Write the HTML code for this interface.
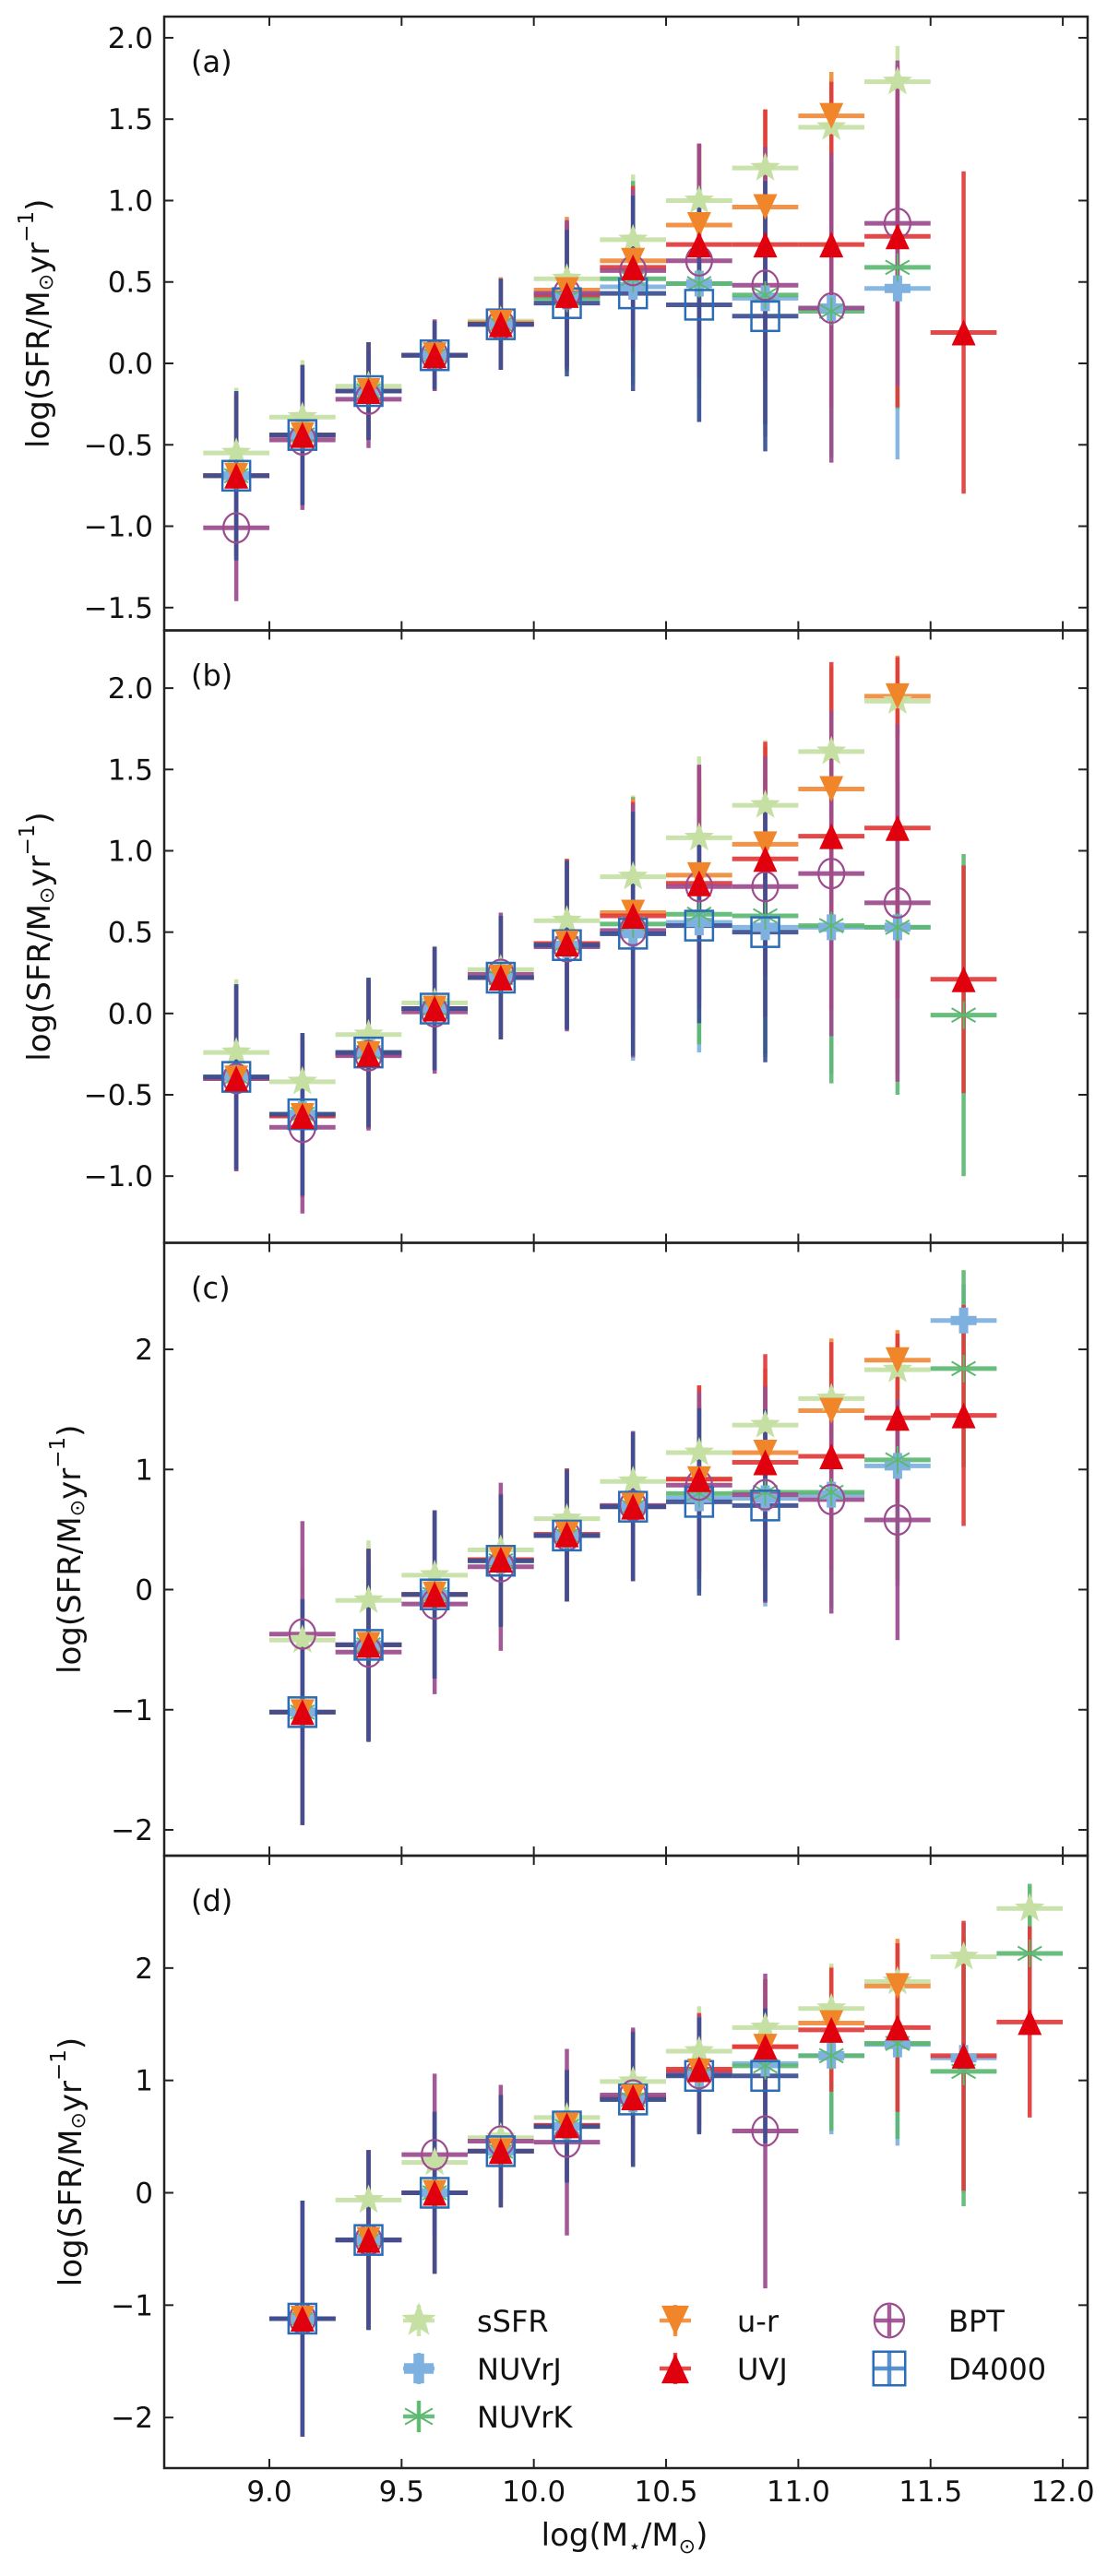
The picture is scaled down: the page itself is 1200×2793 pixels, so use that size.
<!DOCTYPE html>
<html><head><meta charset="utf-8">
<style>
html,body{margin:0;padding:0;background:#fff;}
svg{display:block;font-family:"DejaVu Sans","Liberation Sans",sans-serif;}
</style></head>
<body>
<svg id="fig" width="1200" height="2793" viewBox="0 0 1200 2793" xmlns="http://www.w3.org/2000/svg"></svg>
<script>
// ---------- data ----------
const xBins = [8.875,9.125,9.375,9.625,9.875,10.125,10.375,10.625,10.875,11.125,11.375,11.625,11.875];
const xTicks = [9.0,9.5,10.0,10.5,11.0,11.5,12.0];
const xTickLabels = ["9.0","9.5","10.0","10.5","11.0","11.5","12.0"];
const N = null;
// panel (a)
const a_ssfr  = [-0.55,-0.33,-0.14,0.05,0.26,0.52,0.76,1.00,1.20,1.45,1.73,N,N];
const a_ssfr_e= [0.4,0.35,0.25,0.2,0.25,0.35,0.4,0.35,0.35,0.3,0.22,N,N];
const a_nuvrj = [-0.69,-0.44,-0.17,0.05,0.24,0.41,0.47,0.49,0.40,0.34,0.46,N,N];
const a_nuvrj_e=[0.52,0.43,0.3,0.21,0.28,0.45,0.6,0.85,0.85,0.9,1.05,N,N];
const a_nuvrk = [-0.69,-0.44,-0.17,0.05,0.24,0.40,0.52,0.49,0.42,0.32,0.59,N,N];
const a_nuvrk_e=[0.52,0.43,0.3,0.21,0.28,0.45,0.6,0.7,0.8,0.9,0.87,N,N];
const a_ur    = [-0.69,-0.44,-0.17,0.05,0.25,0.45,0.63,0.85,0.96,1.52,N,N,N];
const a_ur_e  = [0.5,0.43,0.3,0.2,0.28,0.45,0.45,0.5,0.6,0.27,N,N,N];
const a_uvj   = [-0.69,-0.44,-0.17,0.05,0.24,0.42,0.59,0.73,0.73,0.73,0.78,0.19,N];
const a_uvj_e = [0.5,0.43,0.3,0.22,0.28,0.45,0.5,0.62,0.83,1.0,1.05,0.99,N];
const a_bpt   = [-1.01,-0.47,-0.22,0.05,0.24,0.43,0.57,0.63,0.48,0.34,0.86,N,N];
const a_bpt_e = [0.45,0.43,0.3,0.22,0.28,0.45,0.5,0.72,0.85,0.95,1.0,N,N];
const a_d4    = [-0.69,-0.44,-0.17,0.05,0.24,0.37,0.43,0.36,0.29,N,N,N,N];
const a_d4_e  = [0.52,0.43,0.3,0.21,0.28,0.45,0.6,0.72,0.83,N,N,N,N];
// panel (b)
const b_ssfr  = [-0.24,-0.42,-0.13,0.065,0.27,0.57,0.84,1.08,1.28,1.61,1.92,N,N];
const b_ssfr_e= [0.45,0.3,0.35,0.35,0.35,0.37,0.5,0.5,0.4,0.4,0.2,N,N];
const b_nuvrj = [-0.39,-0.62,-0.24,0.03,0.22,0.42,0.49,0.56,0.53,0.53,0.53,N,N];
const b_nuvrj_e=[0.57,0.5,0.46,0.38,0.38,0.52,0.78,0.8,0.8,0.9,0.9,N,N];
const b_nuvrk = [-0.39,-0.62,-0.24,0.03,0.22,0.43,0.55,0.61,0.6,0.54,0.53,-0.01,N];
const b_nuvrk_e=[0.57,0.5,0.46,0.38,0.38,0.52,0.78,0.8,0.85,0.97,1.03,0.99,N];
const b_ur    = [-0.4,-0.63,-0.25,0.03,0.22,0.43,0.62,0.85,1.04,1.38,1.95,N,N];
const b_ur_e  = [0.57,0.5,0.46,0.38,0.38,0.52,0.7,0.6,0.6,0.75,0.25,N,N];
const b_uvj   = [-0.4,-0.63,-0.25,0.03,0.22,0.43,0.6,0.8,0.95,1.09,1.14,0.21,N];
const b_uvj_e = [0.57,0.5,0.46,0.38,0.38,0.52,0.7,0.72,0.72,1.07,1.05,0.7,N];
const b_bpt   = [-0.4,-0.70,-0.26,0.01,0.24,0.41,0.51,0.78,0.78,0.86,0.68,N,N];
const b_bpt_e = [0.57,0.53,0.46,0.38,0.38,0.52,0.78,0.75,0.8,1.0,1.1,N,N];
const b_d4    = [-0.39,-0.62,-0.24,0.03,0.22,0.42,0.49,0.54,0.5,N,N,N,N];
const b_d4_e  = [0.57,0.5,0.46,0.38,0.38,0.52,0.75,0.6,0.8,N,N,N,N];
// panel (c)
const c_ssfr  = [N,-0.42,-0.09,0.12,0.33,0.59,0.9,1.14,1.37,1.59,1.83,N,N];
const c_ssfr_e= [N,0.6,0.5,0.45,0.4,0.4,0.4,0.4,0.4,0.35,0.3,N,N];
const c_nuvrj = [N,-1.02,-0.46,-0.04,0.24,0.45,0.69,0.76,0.76,0.79,1.03,2.24,N];
const c_nuvrj_e=[N,0.94,0.8,0.7,0.55,0.55,0.62,0.78,0.9,0.95,1.0,0.3,N];
const c_nuvrk = [N,-1.02,-0.46,-0.04,0.24,0.45,0.69,0.8,0.81,0.81,1.08,1.84,N];
const c_nuvrk_e=[N,0.94,0.8,0.7,0.55,0.55,0.62,0.78,0.9,0.95,1.0,0.82,N];
const c_ur    = [N,-1.02,-0.46,-0.04,0.25,0.46,0.7,0.92,1.14,1.49,1.91,N,N];
const c_ur_e  = [N,0.94,0.8,0.7,0.55,0.55,0.62,0.78,0.7,0.6,0.25,N,N];
const c_uvj   = [N,-1.02,-0.46,-0.04,0.25,0.46,0.69,0.92,1.06,1.11,1.43,1.45,N];
const c_uvj_e = [N,0.94,0.8,0.7,0.55,0.55,0.62,0.78,0.9,0.95,0.7,0.92,N];
const c_bpt   = [N,-0.37,-0.52,-0.12,0.19,0.45,0.7,0.87,0.79,0.75,0.58,N,N];
const c_bpt_e = [N,0.94,0.75,0.75,0.7,0.55,0.62,0.78,0.9,0.95,1.0,N,N];
const c_d4    = [N,-1.02,-0.46,-0.04,0.24,0.45,0.69,0.73,0.7,N,N,N,N];
const c_d4_e  = [N,0.94,0.8,0.7,0.55,0.55,0.62,0.78,0.8,N,N,N,N];
// panel (d)
const d_ssfr  = [N,N,-0.065,0.27,0.49,0.67,0.99,1.26,1.47,1.64,1.88,2.1,2.53];
const d_ssfr_e= [N,N,0.4,0.4,0.4,0.4,0.4,0.4,0.4,0.4,0.35,0.3,0.2];
const d_nuvrj = [N,-1.12,-0.42,0.0,0.37,0.59,0.83,1.05,1.15,1.22,1.32,1.2,N];
const d_nuvrj_e=[N,1.05,0.8,0.72,0.5,0.5,0.6,0.52,0.6,0.7,0.9,1.2,N];
const d_nuvrk = [N,-1.12,-0.42,0.0,0.37,0.59,0.83,1.05,1.13,1.22,1.33,1.08,2.13];
const d_nuvrk_e=[N,1.05,0.8,0.72,0.5,0.5,0.6,0.52,0.6,0.67,0.85,1.2,0.62];
const d_ur    = [N,-1.12,-0.42,0.0,0.37,0.6,0.85,1.08,1.3,1.51,1.84,N,N];
const d_ur_e  = [N,1.05,0.8,0.72,0.5,0.5,0.6,0.52,0.6,0.5,0.42,N,N];
const d_uvj   = [N,-1.12,-0.42,0.0,0.37,0.6,0.85,1.1,1.3,1.45,1.47,1.22,1.52];
const d_uvj_e = [N,1.05,0.8,0.72,0.5,0.5,0.6,0.5,0.6,0.55,0.75,1.2,0.85];
const d_bpt   = [N,-1.12,-0.42,0.34,0.46,0.45,0.87,1.06,0.55,N,N,N,N];
const d_bpt_e = [N,1.05,0.8,0.72,0.5,0.83,0.6,0.52,1.4,N,N,N,N];
const d_d4    = [N,-1.12,-0.42,0.0,0.37,0.59,0.83,1.04,1.04,N,N,N,N];
const d_d4_e  = [N,1.05,0.8,0.72,0.5,0.5,0.6,0.52,0.6,N,N,N,N];
// ticks
const a_yticks = [-1.5,-1.0,-0.5,0.0,0.5,1.0,1.5,2.0];
const a_ylabels = ["−1.5","−1.0","−0.5","0.0","0.5","1.0","1.5","2.0"];
const b_yticks = [-1.0,-0.5,0.0,0.5,1.0,1.5,2.0];
const b_ylabels = ["−1.0","−0.5","0.0","0.5","1.0","1.5","2.0"];
const c_yticks = [-2,-1,0,1,2];
const c_ylabels = ["−2","−1","0","1","2"];
const d_yticks = [-2,-1,0,1,2];
const d_ylabels = ["−2","−1","0","1","2"];

// ---------- rendering ----------
const NS="http://www.w3.org/2000/svg";
const svg=document.getElementById('fig');
function mk(tag,attrs,parent){const e=document.createElementNS(NS,tag);for(const k in attrs)e.setAttribute(k,attrs[k]);(parent||svg).appendChild(e);return e;}
const X0=177.3, PXU=286.7, XMIN=8.6, XMAX=12.094;
function sx(v){return X0+(v-XMIN)*PXU;}
const panels=[
 {id:'a',top:18,bot:683.5,ymin:-1.64,ymax:2.13,yt:a_yticks,yl:a_ylabels,labX:42,
  s:{ssfr:[a_ssfr,a_ssfr_e],nuvrj:[a_nuvrj,a_nuvrj_e],nuvrk:[a_nuvrk,a_nuvrk_e],bpt:[a_bpt,a_bpt_e],d4:[a_d4,a_d4_e],ur:[a_ur,a_ur_e],uvj:[a_uvj,a_uvj_e]}},
 {id:'b',top:683.5,bot:1347.5,ymin:-1.41,ymax:2.355,yt:b_yticks,yl:b_ylabels,labX:43,
  s:{ssfr:[b_ssfr,b_ssfr_e],nuvrj:[b_nuvrj,b_nuvrj_e],nuvrk:[b_nuvrk,b_nuvrk_e],bpt:[b_bpt,b_bpt_e],d4:[b_d4,b_d4_e],ur:[b_ur,b_ur_e],uvj:[b_uvj,b_uvj_e]}},
 {id:'c',top:1347.5,bot:2012,ymin:-2.215,ymax:2.887,yt:c_yticks,yl:c_ylabels,labX:76,
  s:{ssfr:[c_ssfr,c_ssfr_e],nuvrj:[c_nuvrj,c_nuvrj_e],nuvrk:[c_nuvrk,c_nuvrk_e],bpt:[c_bpt,c_bpt_e],d4:[c_d4,c_d4_e],ur:[c_ur,c_ur_e],uvj:[c_uvj,c_uvj_e]}},
 {id:'d',top:2012,bot:2676,ymin:-2.45,ymax:3.0,yt:d_yticks,yl:d_ylabels,labX:77,
  s:{ssfr:[d_ssfr,d_ssfr_e],nuvrj:[d_nuvrj,d_nuvrj_e],nuvrk:[d_nuvrk,d_nuvrk_e],bpt:[d_bpt,d_bpt_e],d4:[d_d4,d_d4_e],ur:[d_ur,d_ur_e],uvj:[d_uvj,d_uvj_e]}}
];
const style={
 ssfr:{c:'#c6e0a4',e:'#c6e0a4',name:'sSFR'},
 nuvrj:{c:'#7eb1e0',e:'#7eb1e0',name:'NUVrJ'},
 nuvrk:{c:'#5db872',e:'#5db872',name:'NUVrK'},
 bpt:{c:'#9c4c8e',e:'#9c4c8e',name:'BPT'},
 d4:{c:'#2a6cb6',e:'#3b4f92',name:'D4000'},
 ur:{c:'#f0852a',e:'#f08a3a',name:'u-r'},
 uvj:{c:'#e0000e',e:'#e23a3a',name:'UVJ'}
};
const errOrder=['ssfr','nuvrj','nuvrk','ur','uvj','bpt','d4'];
const order=['ssfr','nuvrj','nuvrk','bpt','d4','ur','uvj'];

function marker(g,key,x,y,sc){
 const st=style[key];sc=sc||1;let e;
 if(key==='ssfr'){
  let pts=[];for(let k=0;k<10;k++){const r=(k%2?7:17)*sc,a=-Math.PI/2+k*Math.PI/5;pts.push((x+r*Math.cos(a)).toFixed(1)+','+(y+r*Math.sin(a)).toFixed(1));}
  e=mk('polygon',{points:pts.join(' '),fill:st.c},g);
 } else if(key==='nuvrj'){
  const a=14*sc,b=5*sc;
  e=mk('path',{d:`M${x-b},${y-a}h${2*b}v${a-b}h${a-b}v${2*b}h${b-a}v${a-b}h${-2*b}v${b-a}h${b-a}v${-2*b}h${a-b}z`,fill:st.c},g);
 } else if(key==='nuvrk'){
  const r=15*sc;e=mk('g',{},g);
  [90,30,150].forEach(d=>{const t=d*Math.PI/180;mk('line',{x1:x-r*Math.cos(t),y1:y-r*Math.sin(t),x2:x+r*Math.cos(t),y2:y+r*Math.sin(t),stroke:st.c,'stroke-width':2},e);});
 } else if(key==='bpt'){
  e=mk('ellipse',{cx:x,cy:y,rx:14*sc,ry:16*sc,fill:'none',stroke:st.c,'stroke-width':2.2},g);
 } else if(key==='d4'){
  const h=15*sc;e=mk('rect',{x:x-h,y:y-h-1,width:2*h,height:2*h+2,fill:'none',stroke:st.c,'stroke-width':2.5},g);
 } else if(key==='ur'){
  const w=13*sc,h=14*sc;e=mk('polygon',{points:`${x-w},${y-h} ${x+w},${y-h} ${x},${y+h}`,fill:st.c},g);
 } else {
  const w=13*sc,h=14*sc;e=mk('polygon',{points:`${x-w},${y+h} ${x+w},${y+h} ${x},${y-h}`,fill:st.c},g);
 }
 return e;
}

panels.forEach(p=>{
 const H=p.bot-p.top;
 const sy=v=>p.bot-(v-p.ymin)/(p.ymax-p.ymin)*H;
 const pg=mk('g',{});
 
 
 const clipId='clip'+p.id;
 const cp=mk('clipPath',{id:clipId},pg);mk('rect',{x:178,y:p.top,width:1001,height:H},cp);
 const plot=mk('g',{'clip-path':`url(#${clipId})`},pg);
 // errorbars
 errOrder.forEach(key=>{
  const [vals,errs]=p.s[key];const st=style[key];
  const eg=mk('g',{opacity:0.92},plot);
  
  
  vals.forEach((v,i)=>{
   if(v===null)return;const x=sx(xBins[i]),y=sy(v);const er=errs[i]||0;
   const hl=mk('line',{x1:sx(xBins[i]-0.125),x2:sx(xBins[i]+0.125),y1:y,y2:y,stroke:st.e,'stroke-width':5},eg);
   
   
   const vl=mk('line',{x1:x,x2:x,y1:sy(v+er),y2:sy(v-er),stroke:st.e,'stroke-width':4.5},eg);
   
   
  });
 });
 // markers
 order.forEach(key=>{
  const [vals]=p.s[key];
  const mg=mk('g',{},plot);
  
  
  vals.forEach((v,i)=>{
   if(v===null)return;
   const m=marker(mg,key,sx(xBins[i]),sy(v));
   
   
  });
 });
 // frame
 const fr=mk('rect',{x:178,y:p.top,width:1001,height:H,fill:'none',stroke:'#222','stroke-width':2.5},pg);
 
 
 // x ticks
 xTicks.forEach((t,i)=>{
  const x=sx(t);
  mk('line',{x1:x,x2:x,y1:p.bot,y2:p.bot-10,stroke:'#222','stroke-width':2},pg);
  mk('line',{x1:x,x2:x,y1:p.top,y2:p.top+10,stroke:'#222','stroke-width':2},pg);
  if(p.id==='d'){
   const tx=mk('text',{x:x,y:2712,'font-size':31,'text-anchor':'middle',fill:'#111'},pg);
   tx.textContent=xTickLabels[i];
   
   
  }
 });
 // y ticks
 p.yt.forEach((t,i)=>{
  const y=sy(t);
  mk('line',{x1:178,x2:188,y1:y,y2:y,stroke:'#222','stroke-width':2},pg);
  mk('line',{x1:1179,x2:1169,y1:y,y2:y,stroke:'#222','stroke-width':2},pg);
  const tx=mk('text',{x:166,y:y+11,'font-size':31,'text-anchor':'end',fill:'#111'},pg);
  tx.textContent=p.yl[i];
  
  
 });
 const pl=mk('text',{x:207,y:p.top+60,'font-size':32,fill:'#111'},pg);
 pl.textContent='('+p.id+')';
 
 
 const cy=(p.top+p.bot)/2;
 const yl=mk('text',{x:p.labX,y:cy,'font-size':34,'text-anchor':'middle','dominant-baseline':'central',fill:'#111',transform:`rotate(-90 ${p.labX} ${cy})`},pg);
 yl.innerHTML='log(SFR/M<tspan font-size="22" dy="8">⊙</tspan><tspan dy="-8">yr</tspan><tspan font-size="23" dy="-13">−1</tspan><tspan dy="13">)</tspan>';
 
 
});

// x axis title
const xt=mk('text',{x:677,y:2760,'font-size':34,'text-anchor':'middle',fill:'#111'});
xt.innerHTML='log(M<tspan font-size="22" dy="8">⋆</tspan><tspan dy="-8">/M</tspan><tspan font-size="22" dy="8">⊙</tspan><tspan dy="-8">)</tspan>';



// legend
const legendCols=[[454,517],[732,799],[964,1028]];
const legendRows=[2516,2568,2620];
const legendKeys=[['ssfr',0,0],['nuvrj',0,1],['nuvrk',0,2],['ur',1,0],['uvj',1,1],['bpt',2,0],['d4',2,1]];
const lg=mk('g',{});


legendKeys.forEach(([key,c,r])=>{
 const eg=mk('g',{},lg);
 
 
 const x=legendCols[c][0],y=legendRows[r];
 const ec = key==='d4' ? '#4a86c8' : style[key].e;
 mk('line',{x1:x-17,x2:x+17,y1:y,y2:y,stroke:ec,'stroke-width':4.5,opacity:0.9},eg);
 mk('line',{x1:x,x2:x,y1:y-17,y2:y+17,stroke:ec,'stroke-width':4.5,opacity:0.9},eg);
 marker(eg,key,x,y,1.15);
 const t=mk('text',{x:legendCols[c][1],y:y+12,'font-size':32,fill:'#111'},eg);
 t.textContent=style[key].name;
});
</script>
</body></html>
